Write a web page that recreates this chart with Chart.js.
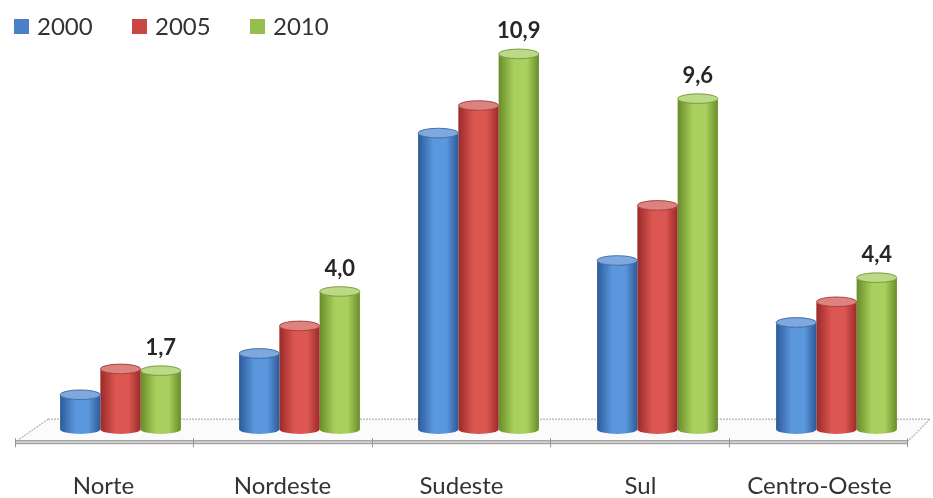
<!DOCTYPE html>
<html>
<head>
<meta charset="utf-8">
<script src="https://cdn.jsdelivr.net/npm/chart.js@4/dist/chart.umd.min.js"></script>
<style>
  body { margin: 0; background: #fff; }
  #wrap { width: 933px; height: 498px; position: relative; }
</style>
</head>
<body>
<div id="wrap"><canvas id="grafico"></canvas></div>
<script>
const categorias = ['Norte', 'Nordeste', 'Sudeste', 'Sul', 'Centro-Oeste'];
const anos = ['2000', '2005', '2010'];
const v2000 = [1.0, 2.2, 8.6, 4.9, 3.1];
const v2005 = [1.75, 3.0, 9.4, 6.5, 3.7];
const v2010 = [1.7, 4.0, 10.9, 9.6, 4.4];

// dark edge, lit middle, top cap
const tons = [
  ['#2c5a99', '#5b97dc', '#7fa9de'],
  ['#9a2a28', '#dc5752', '#dc8380'],
  ['#688c28', '#a9d05e', '#bbd986']
];

const fmt = v => v.toFixed(1).replace('.', ',');

// floor + cylinders + labels + legend
const cilindros = {
  id: 'cilindros',
  beforeDatasetsDraw(chart) {
    const ctx = chart.ctx, a = chart.chartArea;
    const yb = chart.scales.y.getPixelForValue(0);
    const backY = yb - 10, frontY = yb + 13;
    const bl = a.left + 17, br = a.right + 4;
    const fl = a.left - 16, fr = a.right - 19;
    ctx.save();
    ctx.fillStyle = '#fbfbfb';
    ctx.beginPath();
    ctx.moveTo(bl, backY); ctx.lineTo(br, backY);
    ctx.lineTo(fr, frontY); ctx.lineTo(fl, frontY);
    ctx.closePath(); ctx.fill();
    ctx.strokeStyle = '#b4b4b4';
    ctx.lineWidth = 1.2;
    ctx.setLineDash([2, 1]);
    ctx.beginPath();
    ctx.moveTo(bl, backY); ctx.lineTo(br, backY);
    ctx.moveTo(bl, backY); ctx.lineTo(fl, frontY);
    ctx.moveTo(br, backY); ctx.lineTo(fr, frontY);
    ctx.stroke();
    ctx.setLineDash([]);
    // front edge band
    ctx.fillStyle = '#d0d0d0';
    ctx.fillRect(fl, frontY - 1.5, fr - fl, 3);
    ctx.strokeStyle = '#949494';
    ctx.lineWidth = 1;
    ctx.beginPath();
    ctx.moveTo(fl, frontY - 1.5); ctx.lineTo(fr, frontY - 1.5);
    ctx.moveTo(fl, frontY + 1.5); ctx.lineTo(fr, frontY + 1.5);
    const n = categorias.length;
    for (let i = 0; i <= n; i++) {
      const x = Math.round(fl + i * (fr - fl) / n) + 0.5;
      ctx.moveTo(x, frontY - 4); ctx.lineTo(x, frontY + 5);
    }
    ctx.stroke();
    ctx.restore();
  },
  beforeDatasetDraw(chart, args) {
    const ctx = chart.ctx;
    const cores = tons[args.index];
    ctx.save();
    args.meta.data.forEach(el => {
      const w = el.width, x = el.x, y = el.y, base = el.base;
      const l = x - w / 2, r = x + w / 2, ry = w * 0.12;
      const g = ctx.createLinearGradient(l, 0, r, 0);
      g.addColorStop(0, cores[0]);
      g.addColorStop(0.38, cores[1]);
      g.addColorStop(0.7, cores[1]);
      g.addColorStop(1, cores[0]);
      ctx.fillStyle = g;
      ctx.beginPath();
      ctx.moveTo(l, y);
      ctx.lineTo(l, base);
      ctx.ellipse(x, base, w / 2, ry, 0, Math.PI, 0, true);
      ctx.lineTo(r, y);
      ctx.ellipse(x, y, w / 2, ry, 0, 0, Math.PI, false);
      ctx.closePath();
      ctx.fill();
      ctx.fillStyle = cores[2];
      ctx.strokeStyle = cores[0];
      ctx.lineWidth = 0.8;
      ctx.beginPath();
      ctx.ellipse(x, y, w / 2, ry, 0, 0, Math.PI * 2);
      ctx.fill();
      ctx.stroke();
    });
    ctx.restore();
    return false;
  },
  afterDatasetsDraw(chart) {
    const ctx = chart.ctx;
    ctx.save();
    // value labels only on 2010
    const meta = chart.getDatasetMeta(2);
    ctx.font = 'bold 22px Lato';
    ctx.fillStyle = '#262626';
    ctx.textAlign = 'center';
    ctx.textBaseline = 'alphabetic';
    meta.data.forEach((el, i) => {
      const ry = el.width * 0.12;
      ctx.fillText(fmt(v2010[i]), el.x, el.y - ry - 11);
    });
    // legend
    ctx.font = '24px Lato';
    ctx.textAlign = 'left';
    ctx.textBaseline = 'middle';
    chart.data.datasets.forEach((ds, i) => {
      const x = 14 + i * 118;
      ctx.fillStyle = ds.backgroundColor;
      ctx.fillRect(x, 19, 15, 15);
      ctx.fillStyle = '#333';
      ctx.fillText(ds.label, x + 23, 27);
    });
    ctx.restore();
  }
};

new Chart(document.getElementById('grafico'), {
  type: 'bar',
  data: {
    labels: categorias,
    datasets: [
      { label: anos[0], data: v2000, backgroundColor: '#4a80c8' },
      { label: anos[1], data: v2005, backgroundColor: '#c94643' },
      { label: anos[2], data: v2010, backgroundColor: '#93bf4e' }
    ]
  },
  options: {
    responsive: true,
    maintainAspectRatio: false,
    animation: false,
    layout: { padding: { top: 16, left: 31, right: 7, bottom: -38 } },
    datasets: { bar: { categoryPercentage: 0.675, barPercentage: 1.0 } },
    plugins: { legend: { display: false }, tooltip: { enabled: false } },
    scales: {
      x: {
        grid: { display: false },
        border: { display: false },
        ticks: { font: { family: 'Lato', size: 24 }, color: '#333', padding: 35, labelOffset: -17 },
        afterFit(scale) { scale.paddingLeft = 0; scale.paddingRight = 0; }
      },
      y: { display: false, min: 0, max: 12 }
    }
  },
  plugins: [cilindros]
});
</script>
</body>
</html>
